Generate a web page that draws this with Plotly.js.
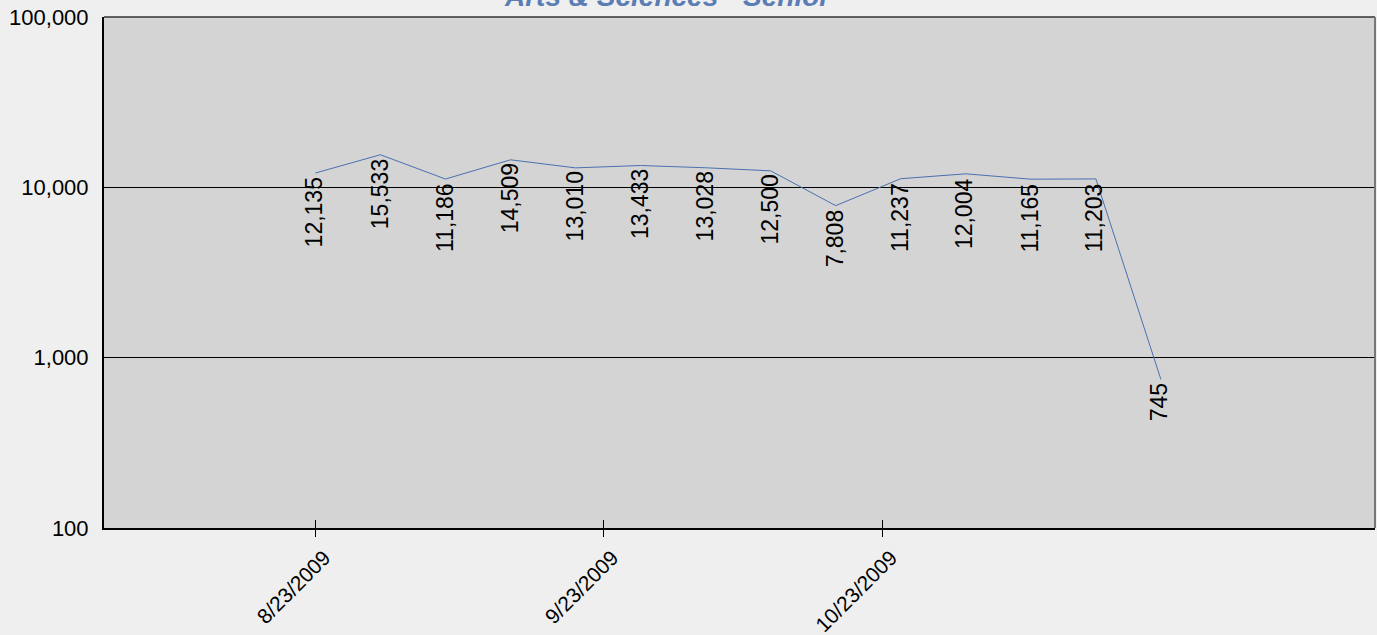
<!DOCTYPE html>
<html>
<head>
<meta charset="utf-8">
<script src="https://cdn.plot.ly/plotly-3.0.1.min.js"></script>
<style>html,body{margin:0;padding:0;background:#efefef;}#chart{width:1377px;height:635px;}</style>
</head>
<body>
<div id="chart"></div>
<script>
const dates = ['2009-08-23','2009-08-30','2009-09-06','2009-09-13','2009-09-20','2009-09-27','2009-10-04','2009-10-11','2009-10-18','2009-10-25','2009-11-01','2009-11-08','2009-11-15','2009-11-22'];
const values = [12135, 15533, 11186, 14509, 13010, 13433, 13028, 12500, 7808, 11237, 12004, 11165, 11203, 745];
const xTickVals = ['2009-08-23','2009-09-23','2009-10-23'];
const xTickText = ['8/23/2009','9/23/2009','10/23/2009'];
const yTickVals = [100, 1000, 10000, 100000];
const yTickText = ['100','1,000','10,000','100,000'];
const titleText = 'Arts & Sciences - Senior';

const fontFam = 'Liberation Sans, Arial, sans-serif';
const fmt = v => v.toLocaleString('en-US');
const xRange = ['2009-07-31 06:00', '2009-12-15 01:00'];

const annotations = dates.map((d, i) => ({
  x: d, y: Math.log10(values[i]), xref: 'x', yref: 'y',
  text: fmt(values[i]), showarrow: false, textangle: -90,
  xanchor: 'center', yanchor: 'top', yshift: -2, xshift: -1,
  font: {family: fontFam, size: 23, color: '#000'}
}));
annotations.push({
  xref: 'paper', yref: 'paper', x: 0.444, y: 1, xanchor: 'center', yanchor: 'bottom', yshift: 3,
  text: '<b><i>' + titleText + '</i></b>', showarrow: false,
  font: {family: fontFam, size: 28, color: '#5b7db5'}
});

const data = [{
  x: dates, y: values, type: 'scatter', mode: 'lines',
  line: {color: '#4a70b0', width: 1}, hoverinfo: 'x+y'
}, {
  x: dates, y: values, type: 'scatter', mode: 'lines', xaxis: 'x2',
  line: {color: 'rgba(0,0,0,0)', width: 0}, hoverinfo: 'skip', showlegend: false
}];

const layout = {
  width: 1377, height: 635,
  margin: {l: 104, r: 2, t: 17, b: 107, pad: 0},
  paper_bgcolor: '#efefef', plot_bgcolor: '#d4d4d4',
  showlegend: false,
  xaxis: {
    type: 'date', range: xRange,
    tickmode: 'array', tickvals: xTickVals, ticktext: xTickText,
    tickangle: -45, ticks: 'outside', ticklen: 7, tickcolor: '#000', tickwidth: 1,
    showgrid: false, zeroline: false, ticklabelshift: 9,
    showline: true, linecolor: '#000', linewidth: 2,
    tickfont: {family: fontFam, size: 21, color: '#000'}
  },
  xaxis2: {
    type: 'date', overlaying: 'x', matches: 'x', range: xRange,
    tickmode: 'array', tickvals: xTickVals, showticklabels: false,
    ticks: 'inside', ticklen: 8, tickcolor: '#000', tickwidth: 1,
    showgrid: false, zeroline: false, showline: false, side: 'bottom'
  },
  yaxis: {
    type: 'log', range: [2, 5],
    tickmode: 'array', tickvals: yTickVals, ticktext: yTickText,
    ticks: '', showgrid: true, gridcolor: '#000', gridwidth: 1,
    zeroline: false, showline: true, linecolor: '#000', linewidth: 2,
    tickfont: {family: fontFam, size: 22, color: '#000'}, ticklabelstandoff: 9
  },
  shapes: [
    {type: 'line', xref: 'paper', yref: 'paper', x0: 0, x1: 1, y0: 1, y1: 1, line: {color: '#333', width: 1.5}},
    {type: 'line', xref: 'paper', yref: 'paper', x0: 1, x1: 1, y0: 0, y1: 1, line: {color: '#777', width: 2}}
  ],
  annotations: annotations
};

Plotly.newPlot('chart', data, layout, {displayModeBar: false, staticPlot: true});
</script>
</body>
</html>
